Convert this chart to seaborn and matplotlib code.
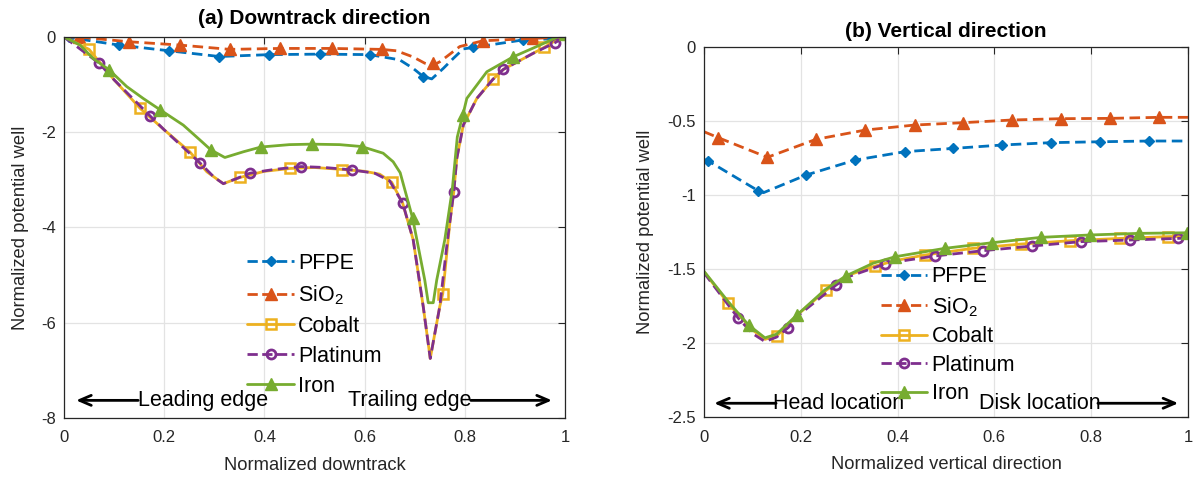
import numpy as np
import pandas as pd
import matplotlib
matplotlib.use("Agg")
import matplotlib.pyplot as plt
from matplotlib.lines import Line2D
import seaborn as sns

# ---------------- data: (a) downtrack direction ----------------
pfpe_a_x = [0, 0.01, 0.11, 0.21, 0.31, 0.41, 0.51, 0.61, 0.67, 0.697, 0.717, 0.734, 0.757, 0.777, 0.797, 0.817, 0.917, 1.0]
pfpe_a_y = [0, -0.01, -0.17, -0.29, -0.41, -0.37, -0.36, -0.37, -0.48, -0.66, -0.83, -0.88, -0.66, -0.45, -0.25, -0.22, -0.06, -0.03]
pfpe_a_mx = [0.01, 0.11, 0.21, 0.31, 0.41, 0.51, 0.61, 0.717, 0.817, 0.917]
pfpe_a_my = [-0.01, -0.17, -0.29, -0.41, -0.37, -0.36, -0.37, -0.83, -0.22, -0.06]

sio2_a_x = [0, 0.029, 0.13, 0.232, 0.331, 0.431, 0.534, 0.634, 0.664, 0.697, 0.72, 0.736, 0.75, 0.764, 0.79, 0.836, 0.937, 1.0]
sio2_a_y = [0.0, 0.0, -0.10, -0.17, -0.26, -0.24, -0.24, -0.26, -0.29, -0.42, -0.55, -0.6, -0.52, -0.41, -0.2, -0.08, -0.03, 0.0]
sio2_a_mx = [0.029, 0.13, 0.232, 0.331, 0.431, 0.534, 0.634, 0.736, 0.836, 0.937]
sio2_a_my = [0.0, -0.10, -0.17, -0.26, -0.24, -0.24, -0.26, -0.55, -0.08, -0.03]

cobalt_a_x = [0, 0.05, 0.1, 0.152, 0.2, 0.251, 0.285, 0.318, 0.351, 0.4, 0.452, 0.5, 0.554, 0.6, 0.63, 0.654, 0.676, 0.697, 0.717, 0.731, 0.75, 0.756, 0.77, 0.778, 0.784, 0.797, 0.824, 0.856, 0.877, 0.937, 0.958, 0.977, 1.0]
cobalt_a_y = [0, -0.26, -0.9, -1.50, -1.95, -2.41, -2.83, -3.08, -2.95, -2.82, -2.76, -2.74, -2.78, -2.82, -2.88, -3.05, -3.49, -4.26, -5.66, -6.75, -5.66, -5.39, -3.91, -3.25, -2.55, -1.85, -1.29, -0.89, -0.68, -0.34, -0.22, -0.1, 0.0]
cobalt_a_mx = [0.05, 0.152, 0.251, 0.351, 0.452, 0.554, 0.654, 0.756, 0.856, 0.958]
cobalt_a_my = [-0.26, -1.50, -2.41, -2.95, -2.76, -2.79, -3.05, -5.39, -0.89, -0.22]

plat_a_x = [0, 0.07, 0.1, 0.172, 0.2, 0.271, 0.3, 0.318, 0.345, 0.371, 0.42, 0.473, 0.52, 0.574, 0.62, 0.65, 0.676, 0.697, 0.717, 0.731, 0.75, 0.765, 0.778, 0.784, 0.797, 0.824, 0.856, 0.877, 0.937, 0.98, 1.0]
plat_a_y = [0, -0.55, -0.9, -1.66, -1.95, -2.64, -2.95, -3.08, -2.97, -2.86, -2.78, -2.72, -2.74, -2.79, -2.86, -3.02, -3.49, -4.26, -5.66, -6.75, -5.66, -4.3, -3.25, -2.55, -1.85, -1.29, -0.89, -0.68, -0.34, -0.12, 0.0]
plat_a_mx = [0.07, 0.172, 0.271, 0.371, 0.473, 0.574, 0.676, 0.778, 0.877, 0.98]
plat_a_my = [-0.55, -1.66, -2.64, -2.86, -2.72, -2.79, -3.49, -3.25, -0.68, -0.12]

iron_a_x = [0, 0.032, 0.058, 0.09, 0.125, 0.158, 0.192, 0.238, 0.271, 0.293, 0.321, 0.358, 0.393, 0.45, 0.494, 0.55, 0.594, 0.637, 0.657, 0.671, 0.696, 0.72, 0.727, 0.737, 0.744, 0.76, 0.775, 0.785, 0.796, 0.804, 0.844, 0.896, 0.95, 1.0]
iron_a_y = [0, -0.17, -0.45, -0.69, -1.04, -1.29, -1.53, -1.85, -2.16, -2.37, -2.53, -2.41, -2.31, -2.26, -2.25, -2.26, -2.30, -2.44, -2.62, -2.85, -3.81, -5.1, -5.58, -5.58, -5.1, -4.26, -3.2, -2.1, -1.64, -1.29, -0.73, -0.42, -0.17, 0.07]
iron_a_mx = [0.09, 0.192, 0.293, 0.393, 0.494, 0.594, 0.696, 0.796, 0.896, 1.0]
iron_a_my = [-0.69, -1.53, -2.37, -2.31, -2.25, -2.30, -3.81, -1.64, -0.42, 0.07]

# ---------------- data: (b) vertical direction ----------------
pfpe_b_x = [0, 0.009, 0.112, 0.123, 0.211, 0.312, 0.415, 0.515, 0.616, 0.717, 0.818, 0.92, 1.0]
pfpe_b_y = [-0.76, -0.77, -0.971, -0.984, -0.865, -0.764, -0.707, -0.685, -0.662, -0.646, -0.64, -0.635, -0.635]
pfpe_b_mx = [0.009, 0.112, 0.211, 0.312, 0.415, 0.515, 0.616, 0.717, 0.818, 0.92]
pfpe_b_my = [-0.77, -0.971, -0.865, -0.764, -0.707, -0.685, -0.662, -0.646, -0.64, -0.635]

sio2_b_x = [0, 0.03, 0.131, 0.231, 0.333, 0.435, 0.536, 0.636, 0.738, 0.839, 0.94, 1.0]
sio2_b_y = [-0.572, -0.613, -0.745, -0.624, -0.561, -0.527, -0.511, -0.493, -0.484, -0.482, -0.475, -0.475]
sio2_b_mx = [0.03, 0.131, 0.231, 0.333, 0.435, 0.536, 0.636, 0.738, 0.839, 0.94]
sio2_b_my = [-0.613, -0.745, -0.624, -0.561, -0.527, -0.511, -0.493, -0.484, -0.482, -0.475]

cobalt_b_x = [0, 0.05, 0.1, 0.126, 0.15, 0.2, 0.253, 0.3, 0.353, 0.4, 0.457, 0.556, 0.656, 0.756, 0.86, 0.959, 1.0]
cobalt_b_y = [-1.518, -1.732, -1.91, -1.975, -1.953, -1.79, -1.642, -1.54, -1.48, -1.44, -1.405, -1.36, -1.331, -1.309, -1.293, -1.281, -1.278]
cobalt_b_mx = [0.05, 0.15, 0.253, 0.353, 0.457, 0.556, 0.656, 0.756, 0.86, 0.959]
cobalt_b_my = [-1.732, -1.953, -1.642, -1.48, -1.405, -1.36, -1.331, -1.309, -1.293, -1.281]

plat_b_x = [0, 0.071, 0.1, 0.126, 0.15, 0.174, 0.2, 0.273, 0.3, 0.374, 0.42, 0.477, 0.577, 0.677, 0.779, 0.88, 0.98, 1.0]
plat_b_y = [-1.525, -1.833, -1.935, -1.99, -1.96, -1.896, -1.8, -1.608, -1.55, -1.466, -1.44, -1.412, -1.376, -1.345, -1.315, -1.304, -1.293, -1.29]
plat_b_mx = [0.071, 0.174, 0.273, 0.374, 0.477, 0.577, 0.677, 0.779, 0.88, 0.98]
plat_b_my = [-1.833, -1.896, -1.608, -1.466, -1.412, -1.376, -1.345, -1.315, -1.304, -1.293]

iron_b_x = [0, 0.05, 0.092, 0.126, 0.15, 0.192, 0.25, 0.293, 0.35, 0.395, 0.498, 0.596, 0.696, 0.797, 0.899, 0.998]
iron_b_y = [-1.515, -1.72, -1.878, -1.965, -1.94, -1.811, -1.64, -1.547, -1.46, -1.417, -1.36, -1.322, -1.286, -1.27, -1.259, -1.255]
iron_b_mx = [0.092, 0.192, 0.293, 0.395, 0.498, 0.596, 0.696, 0.797, 0.899, 0.998]
iron_b_my = [-1.878, -1.811, -1.547, -1.417, -1.36, -1.322, -1.286, -1.27, -1.259, -1.255]

series_names = ["PFPE", "SiO$_2$", "Cobalt", "Platinum", "Iron"]
x_ticks = [0, 0.2, 0.4, 0.6, 0.8, 1]
x_tick_labels = ["0", "0.2", "0.4", "0.6", "0.8", "1"]
ya_ticks = [0, -2, -4, -6, -8]
ya_tick_labels = ["0", "-2", "-4", "-6", "-8"]
yb_ticks = [0, -0.5, -1, -1.5, -2, -2.5]
yb_tick_labels = ["0", "-0.5", "-1", "-1.5", "-2", "-2.5"]

# ---------------- styles ----------------
sns.set_theme(style="white")
plt.rcParams['font.family'] = ['Liberation Sans', 'DejaVu Sans']
plt.rcParams['axes.unicode_minus'] = False
plt.rcParams['mathtext.fontset'] = 'custom'
plt.rcParams['mathtext.rm'] = 'Liberation Sans'
plt.rcParams['mathtext.it'] = 'Liberation Sans'

C_PFPE = "#0072BD"
C_SIO2 = "#D95319"
C_CO = "#EDB120"
C_PT = "#7E2F8E"
C_FE = "#77AC30"
TXT = "#262626"
LW = 2.0
DASH = (3.8, 2.0)

styles = [
    dict(color=C_PFPE, dashes=DASH, marker="D", ms=5.0, mfc=C_PFPE, mew=1.0),
    dict(color=C_SIO2, dashes=DASH, marker="^", ms=8.5, mfc=C_SIO2, mew=1.0),
    dict(color=C_CO, dashes=None, marker="s", ms=6.5, mfc="none", mew=1.8),
    dict(color=C_PT, dashes=DASH, marker="o", ms=6.5, mfc="none", mew=2.0),
    dict(color=C_FE, dashes=None, marker="^", ms=8.5, mfc=C_FE, mew=1.0),
]

fig = plt.figure(figsize=(11.95, 4.83), dpi=100)
axA = fig.add_axes([0.0536, 0.1346, 0.4192, 0.7888])
axB = fig.add_axes([0.5891, 0.1366, 0.4050, 0.7660])


def draw(ax, series):
    for (lx, ly, mx, my), st in zip(series, styles):
        df = pd.DataFrame({"x": lx, "y": ly})
        sns.lineplot(data=df, x="x", y="y", ax=ax, color=st["color"], lw=LW,
                     estimator=None, sort=False, legend=False)
        ln = ax.lines[-1]
        ln.set_solid_joinstyle("round")
        if st["dashes"] is not None:
            ln.set_dashes(st["dashes"])
        mdf = pd.DataFrame({"x": mx, "y": my})
        ax.plot(mdf["x"], mdf["y"], ls="none", marker=st["marker"], ms=st["ms"],
                mfc=st["mfc"], mec=st["color"], mew=st["mew"], zorder=ln.get_zorder())


def style_axis(ax, yticks, ylabels, ylim, xlabel, title, title_pad, ylabelpad):
    ax.set_xlim(0, 1)
    ax.set_ylim(*ylim)
    ax.set_xticks(x_ticks)
    ax.set_xticklabels(x_tick_labels)
    ax.set_yticks(yticks)
    ax.set_yticklabels(ylabels)
    ax.grid(True, color="#e3e3e3", lw=0.9)
    ax.set_axisbelow(True)
    ax.tick_params(direction="in", length=5, width=0.8, colors=TXT, labelsize=12,
                   top=True, right=True)
    ax.tick_params(axis="x", pad=9)
    ax.tick_params(axis="y", pad=6)
    for sp in ax.spines.values():
        sp.set_color(TXT)
        sp.set_linewidth(0.9)
        sp.set_visible(True)
    ax.set_xlabel(xlabel, fontsize=13.2, color=TXT, labelpad=8)
    ax.set_ylabel("Normalized potential well", fontsize=13.2, color=TXT, labelpad=ylabelpad)
    ax.set_title(title, fontsize=15, fontweight="bold", color="black", pad=title_pad)


seriesA = [
    (pfpe_a_x, pfpe_a_y, pfpe_a_mx, pfpe_a_my),
    (sio2_a_x, sio2_a_y, sio2_a_mx, sio2_a_my),
    (cobalt_a_x, cobalt_a_y, cobalt_a_mx, cobalt_a_my),
    (plat_a_x, plat_a_y, plat_a_mx, plat_a_my),
    (iron_a_x, iron_a_y, iron_a_mx, iron_a_my),
]
seriesB = [
    (pfpe_b_x, pfpe_b_y, pfpe_b_mx, pfpe_b_my),
    (sio2_b_x, sio2_b_y, sio2_b_mx, sio2_b_my),
    (cobalt_b_x, cobalt_b_y, cobalt_b_mx, cobalt_b_my),
    (plat_b_x, plat_b_y, plat_b_mx, plat_b_my),
    (iron_b_x, iron_b_y, iron_b_mx, iron_b_my),
]

draw(axA, seriesA)
draw(axB, seriesB)
style_axis(axA, ya_ticks, ya_tick_labels, (-8, 0), "Normalized downtrack", "(a) Downtrack direction", 9.5, 8.5)
style_axis(axB, yb_ticks, yb_tick_labels, (-2.5, 0), "Normalized vertical direction", "(b) Vertical direction", 7.5, 9.5)

handles = []
for st in styles:
    handles.append(Line2D([0], [0], color=st["color"], lw=LW,
                          dashes=st["dashes"] if st["dashes"] else (None, None),
                          ls="--" if st["dashes"] else "-",
                          marker=st["marker"], ms=st["ms"], mfc=st["mfc"],
                          mec=st["color"], mew=st["mew"]))


def add_legend(ax, anchor, spacing):
    leg = ax.legend(handles, series_names, loc="upper left", bbox_to_anchor=anchor,
                    frameon=False, fontsize=15.5, handlelength=2.15, handletextpad=0.2,
                    labelspacing=spacing, borderpad=0, borderaxespad=0)
    for t in leg.get_texts():
        t.set_color("black")


add_legend(axA, (0.366, 0.433), 0.42)
add_legend(axB, (0.366, 0.407), 0.35)

# annotations
ann_fs = 15.5
arrowprops = dict(arrowstyle="->,head_length=0.7,head_width=0.3", color="black", lw=2.0,
                  shrinkA=0, shrinkB=0)
yA = -7.63
axA.annotate("", xy=(0.024, yA), xytext=(0.148, yA), arrowprops=arrowprops)
axA.text(0.277, yA, "Leading edge", ha="center", va="center", fontsize=ann_fs, color="black")
axA.text(0.69, yA, "Trailing edge", ha="center", va="center", fontsize=ann_fs, color="black")
axA.annotate("", xy=(0.974, yA), xytext=(0.812, yA), arrowprops=arrowprops)

yB = -2.407
axB.annotate("", xy=(0.021, yB), xytext=(0.149, yB), arrowprops=arrowprops)
axB.text(0.279, yB, "Head location", ha="center", va="center", fontsize=ann_fs, color="black")
axB.text(0.694, yB, "Disk location", ha="center", va="center", fontsize=ann_fs, color="black")
axB.annotate("", xy=(0.98, yB), xytext=(0.814, yB), arrowprops=arrowprops)

fig.savefig("out.png", dpi=100)
